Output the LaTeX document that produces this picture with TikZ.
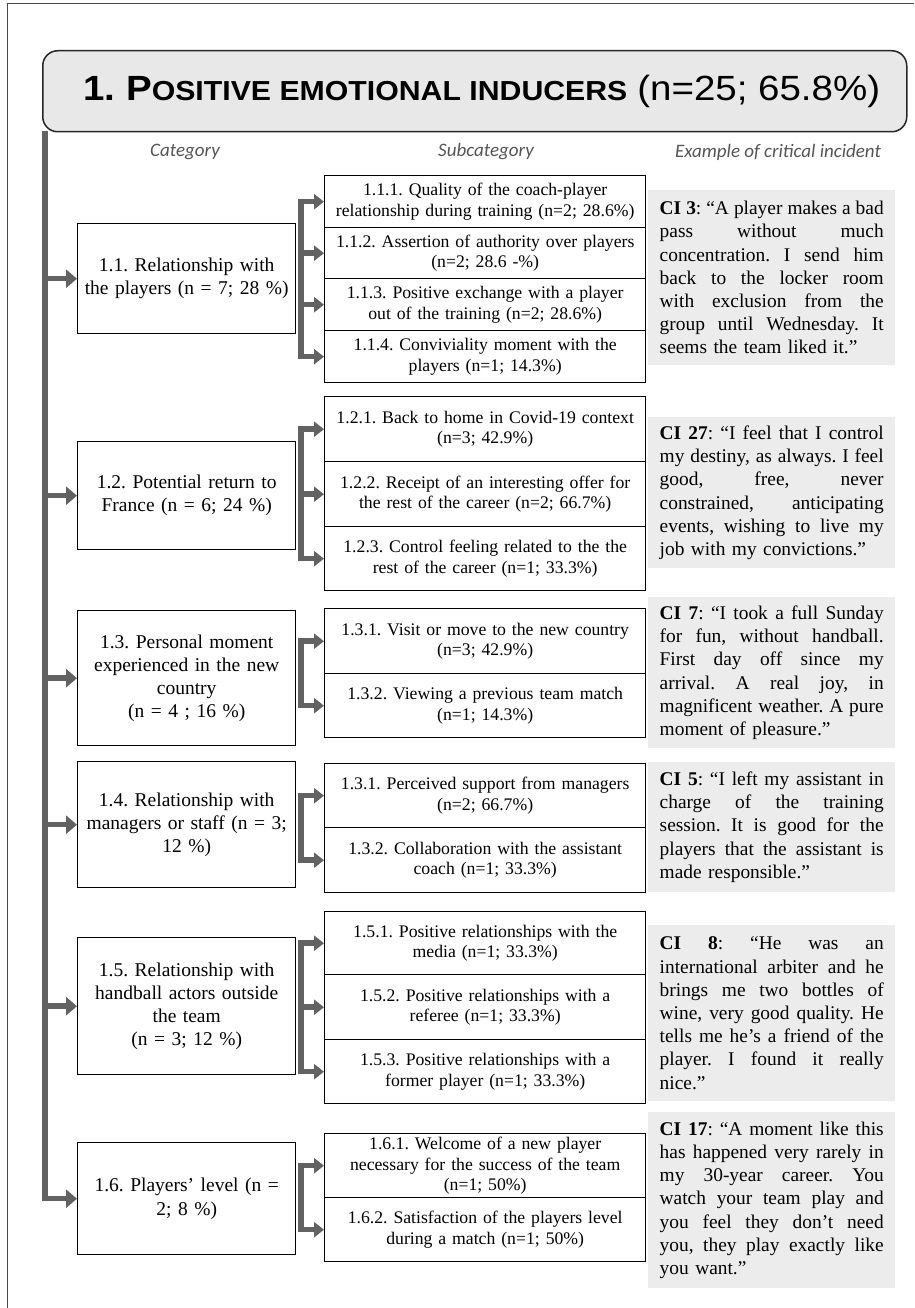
\documentclass[tikz,border=0pt]{standalone}
\usepackage{graphicx}
\usepackage{fontspec}
\setmainfont{Liberation Serif}
\newfontfamily\hdrfont{Liberation Sans}
\newfontfamily\colfont{Carlito}
\usetikzlibrary{arrows.meta}
\definecolor{arrgray}{RGB}{98,98,98}
\definecolor{cifill}{RGB}{236,236,236}
\definecolor{hdrfill}{RGB}{232,232,232}
\definecolor{framegray}{RGB}{70,70,70}
\definecolor{colgray}{RGB}{85,85,85}
\frenchspacing
\newcommand\jl[1]{\noindent\hbox to 224pt{\spaceskip=4.8pt plus 1fil\relax #1}\par}
\newcommand\lastln[1]{\noindent\hbox{#1}\par}
\begin{document}
\begin{tikzpicture}[x=1pt,y=-1pt,
  catbox/.style={draw=black, line width=1.4pt, anchor=north west, minimum width=218pt, text width=208pt, align=center, inner sep=0pt, font=\fontsize{19.5}{23.2}\selectfont},
  subbox/.style={draw=black, line width=1.4pt, anchor=north west, minimum width=321pt, text width=312pt, align=center, inner sep=0pt, font=\fontsize{17.7}{20.8}\selectfont},
  cibox/.style={fill=cifill, draw=none, anchor=north west, minimum width=247pt, text width=224pt, inner sep=0pt, font=\fontsize{19.4}{23.2}\selectfont},
  colhead/.style={font=\colfont\itshape\fontsize{19}{22}\selectfont, text=colgray, inner sep=0pt},
  mainarr/.style={draw=arrgray, line width=5.5pt, -{Triangle[length=11pt,width=18pt]}},
  brkarr/.style={draw=arrgray, line width=5.5pt, -{Triangle[length=10pt,width=15pt]}},
  brkline/.style={draw=arrgray, line width=5.5pt, line join=miter, {Triangle[length=10pt,width=15pt]}-{Triangle[length=10pt,width=15pt]}},
]
\useasboundingbox (0,0) rectangle (914,1308);
% outer frame (top and left edges)
\draw[framegray, line width=1pt] (7,1308) -- (7,4) -- (914,4);

% header
\node[draw=black!85, line width=1.5pt, fill=hdrfill, rounded corners=15pt, anchor=north west,
      minimum width=864pt, minimum height=81pt, inner sep=0pt] (hdr) at (42,50)
  {\hspace*{14pt}\scalebox{1.1}[1]{\hdrfont{\bfseries\fontsize{35}{38}\selectfont 1. P{\fontsize{27.5}{30}\selectfont OSITIVE EMOTIONAL INDUCERS}}\hspace{9pt}{\fontsize{35}{38}\selectfont(n=25; 65.8\%)}}};

% column headers
\node[colhead] (h1) at (185,152) {Category};
\node[colhead] (h2) at (486,152) {Subcategory};
\node[colhead] (h3) at (778,152) {Example of critical incident};

% categories
\node[catbox, minimum height=110pt] (c1) at (77,223) {1.1. Relationship with\\the players (n = 7; 28 \%)};
\node[catbox, minimum height=108pt] (c2) at (77,441) {1.2. Potential return to\\France (n = 6; 24 \%)};
\node[catbox, minimum height=135pt] (c3) at (77,610) {1.3. Personal moment\\experienced in the new\\country\\(n = 4 ; 16 \%)};
\node[catbox, minimum height=126pt] (c4) at (77,761) {1.4. Relationship with\\managers or staff (n = 3;\\12 \%)};
\node[catbox, minimum height=137pt] (c5) at (77,937) {1.5. Relationship with\\handball actors outside\\the team\\(n = 3; 12 \%)};
\node[catbox, minimum height=112pt] (c6) at (77,1142) {1.6. Players’ level (n =\\2; 8 \%)};

% subcategories
\node[subbox, minimum height=52pt] (s11) at (324,175) {1.1.1. Quality of the coach-player\\relationship during training (n=2; 28.6\%)};
\node[subbox, minimum height=51pt] (s12) at (324,227) {1.1.2. Assertion of authority over players\\(n=2; 28.6 -\%)};
\node[subbox, minimum height=52pt] (s13) at (324,278) {1.1.3. Positive exchange with a player\\out of the training (n=2; 28.6\%)};
\node[subbox, minimum height=52pt] (s14) at (324,330) {1.1.4. Conviviality moment with the\\players (n=1; 14.3\%)};

\node[subbox, minimum height=65pt] (s21) at (324,396) {1.2.1. Back to home in Covid-19 context\\(n=3; 42.9\%)};
\node[subbox, minimum height=65pt] (s22) at (324,461) {1.2.2. Receipt of an interesting offer for\\the rest of the career (n=2; 66.7\%)};
\node[subbox, minimum height=64pt] (s23) at (324,526) {1.2.3. Control feeling related to the the\\rest of the career (n=1; 33.3\%)};

\node[subbox, minimum height=65pt] (s31) at (324,608) {1.3.1. Visit or move to the new country\\(n=3; 42.9\%)};
\node[subbox, minimum height=64pt] (s32) at (324,673) {1.3.2. Viewing a previous team match\\(n=1; 14.3\%)};

\node[subbox, minimum height=64pt] (s41) at (324,763) {1.3.1. Perceived support from managers\\(n=2; 66.7\%)};
\node[subbox, minimum height=65pt] (s42) at (324,827) {1.3.2. Collaboration with the assistant\\coach (n=1; 33.3\%)};

\node[subbox, minimum height=63pt] (s51) at (324,911) {1.5.1. Positive relationships with the\\media (n=1; 33.3\%)};
\node[subbox, minimum height=65pt] (s52) at (324,974) {1.5.2. Positive relationships with a\\referee (n=1; 33.3\%)};
\node[subbox, minimum height=64pt] (s53) at (324,1039) {1.5.3. Positive relationships with a\\former player (n=1; 33.3\%)};

\node[subbox, minimum height=64pt] (s61) at (324,1133) {1.6.1. Welcome of a new player\\necessary for the success of the team\\(n=1; 50\%)};
\node[subbox, minimum height=64pt] (s62) at (324,1197) {1.6.2. Satisfaction of the players level\\during a match (n=1; 50\%)};

% critical incidents
\node[cibox, minimum height=175pt] (ci3) at (648,190) {%
\jl{\textbf{CI 3}: “A player makes a bad}
\jl{pass without much}
\jl{concentration. I send him}
\jl{back to the locker room}
\jl{with exclusion from the}
\jl{group until Wednesday. It}
\lastln{seems the team liked it.”}};
\node[cibox, minimum height=151pt] (ci27) at (648,417) {%
\jl{\textbf{CI 27}: “I feel that I control}
\jl{my destiny, as always. I feel}
\jl{good, free, never}
\jl{constrained, anticipating}
\jl{events, wishing to live my}
\lastln{job with my convictions.”}};
\node[cibox, minimum height=151pt] (ci7) at (648,597) {%
\jl{\textbf{CI 7}: “I took a full Sunday}
\jl{for fun, without handball.}
\jl{First day off since my}
\jl{arrival. A real joy, in}
\jl{magnificent weather. A pure}
\lastln{moment of pleasure.”}};
\node[cibox, minimum height=130pt] (ci5) at (648,762) {%
\jl{\textbf{CI 5}: “I left my assistant in}
\jl{charge of the training}
\jl{session. It is good for the}
\jl{players that the assistant is}
\lastln{made responsible.”}};
\node[cibox, minimum height=176pt] (ci8) at (648,925) {%
\jl{\textbf{CI\spaceskip=4.8pt plus 1fil\relax{} 8}: “He was an}
\jl{international arbiter and he}
\jl{brings me two bottles of}
\jl{wine, very good quality. He}
\jl{tells me he’s a friend of the}
\jl{player. I found it really}
\lastln{nice.”}};
\node[cibox, minimum height=176pt] (ci17) at (648,1112) {%
\jl{\textbf{CI 17}: “A moment like this}
\jl{has happened very rarely in}
\jl{my 30-year career. You}
\jl{watch your team play and}
\jl{you feel they don’t need}
\jl{you, they play exactly like}
\lastln{you want.”}};

% main vertical bar with arrows
\coordinate (bartop) at (45,131);
\draw[mainarr] (bartop) -- (bartop |- c6.west) -- (c6.west);
\foreach \c in {c1,c2,c3,c4,c5} \draw[mainarr] (bartop |- \c.west) -- (\c.west);

% brackets
\coordinate (bx) at (301,0);
\draw[brkline] (s11.west) -- (s11.west -| bx) -- (s14.west -| bx) -- (s14.west);
\draw[brkarr] (s12.west -| bx) -- (s12.west);
\draw[brkarr] (s13.west -| bx) -- (s13.west);

\draw[brkline] (s21.west) -- (s21.west -| bx) -- (s23.west -| bx) -- (s23.west);
\draw[brkarr] (s22.west -| bx) -- (s22.west);

\draw[brkline] (s31.west) -- (s31.west -| bx) -- (s32.west -| bx) -- (s32.west);

\draw[brkline] (s41.west) -- (s41.west -| bx) -- (s42.west -| bx) -- (s42.west);

\draw[brkline] (s51.west) -- (s51.west -| bx) -- (s53.west -| bx) -- (s53.west);
\draw[brkarr] (s52.west -| bx) -- (s52.west);

\draw[brkline] (s61.west) -- (s61.west -| bx) -- (s62.west -| bx) -- (s62.west);
\end{tikzpicture}
\end{document}
